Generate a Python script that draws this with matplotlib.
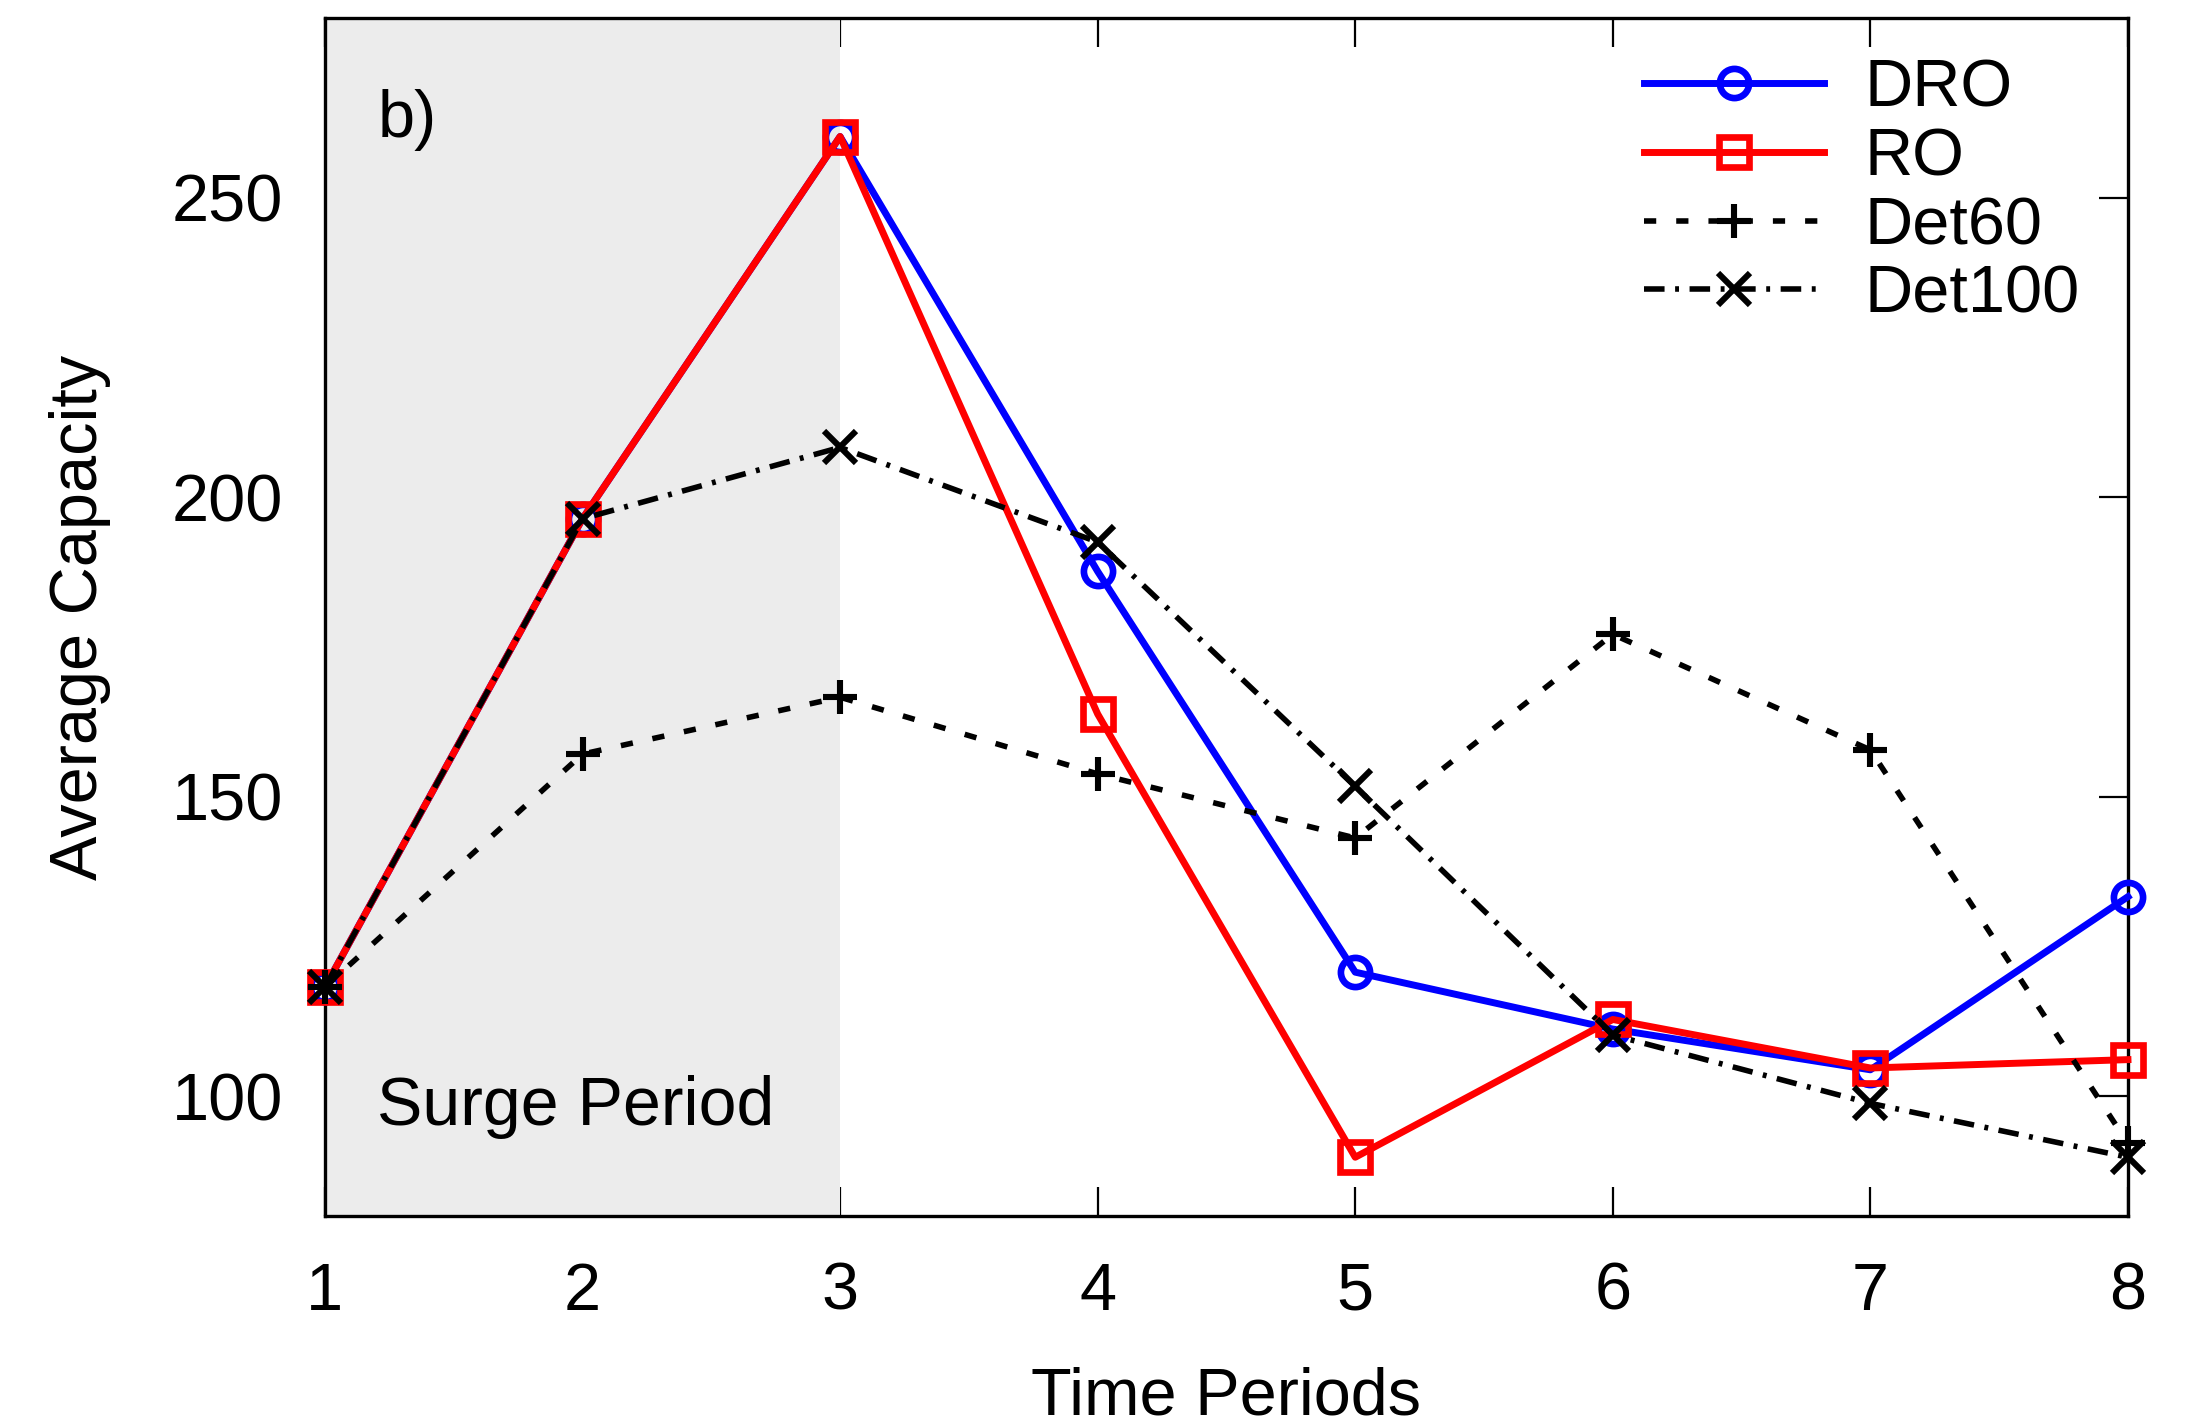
import matplotlib
matplotlib.use('Agg')
from matplotlib import pyplot as plt

plt.rcParams['font.family'] = ['Liberation Sans', 'DejaVu Sans']

# values
periods = [1, 2, 3, 4, 5, 6, 7, 8]
dro = [118.2, 196.4, 260.2, 187.6, 120.7, 111.2, 104.4, 133.3]
ro = [118.2, 196.4, 260.2, 163.8, 89.8, 112.8, 104.7, 106.1]
det60 = [118.2, 157.1, 166.6, 153.8, 143.1, 177.1, 157.8, 92.1]
det100 = [118.2, 196.4, 208.3, 192.5, 151.7, 110.2, 98.8, 89.8]
surge = (1, 3)
yticks = [100, 150, 200, 250]

fig = plt.figure(figsize=(10.97, 7.12), dpi=200)
ax = fig.add_axes([0.1481, 0.1461, 0.8218, 0.8413])

# shaded surge period, drawn over the ticks but under the frame
ax.axvspan(surge[0], surge[1], color='#ececec', lw=0, zorder=2.6)
for sp in ax.spines.values():
    sp.set_zorder(3)
    sp.set_linewidth(1.2)

ax.plot(periods, dro, color='#0000ff', lw=2.5, marker='o', ms=10.5, mew=2.4,
        mfc='none', label='DRO', clip_on=False, zorder=4)
ax.plot(periods, ro, color='#ff0000', lw=2.5, marker='s', ms=10.5, mew=2.4,
        mfc='none', label='RO', clip_on=False, zorder=4)
ax.plot(periods, det60, color='black', lw=2.0, ls=(0, (2.2, 3.6)), marker='+',
        ms=12, mew=2.2, label='Det60', clip_on=False, zorder=5)
ax.plot(periods, det100, color='black', lw=2.0, ls=(0, (3.7, 1.9, 0.7, 1.9)),
        marker='x', ms=11.5, mew=2.2, label='Det100', clip_on=False, zorder=5)

ax.set_xlim(1, 8)
ax.set_ylim(80, 280)
ax.set_xticks(periods)
ax.set_yticks(yticks)
ax.tick_params(axis='both', direction='in', top=True, right=True,
               length=10.5, width=0.8, labelsize=24)
ax.tick_params(axis='x', pad=16.5)
ax.tick_params(axis='y', pad=15)

ax.set_xlabel('Time Periods', fontsize=24, labelpad=15.5)
ax.set_ylabel('Average Capacity', fontsize=24, labelpad=22)

ax.text(0.029, 0.901, 'b)', transform=ax.transAxes, fontsize=24,
        va='baseline', ha='left', zorder=6)
ax.text(0.029, 0.076, 'Surge Period', transform=ax.transAxes, fontsize=24.5,
        va='baseline', ha='left', zorder=6)

ax.legend(loc='upper right', bbox_to_anchor=(0.973, 0.966), frameon=False,
          fontsize=24, borderpad=0, borderaxespad=0, handlelength=2.7,
          handletextpad=0.6, labelspacing=0.1, numpoints=1)

fig.savefig('out.png', dpi=200)
